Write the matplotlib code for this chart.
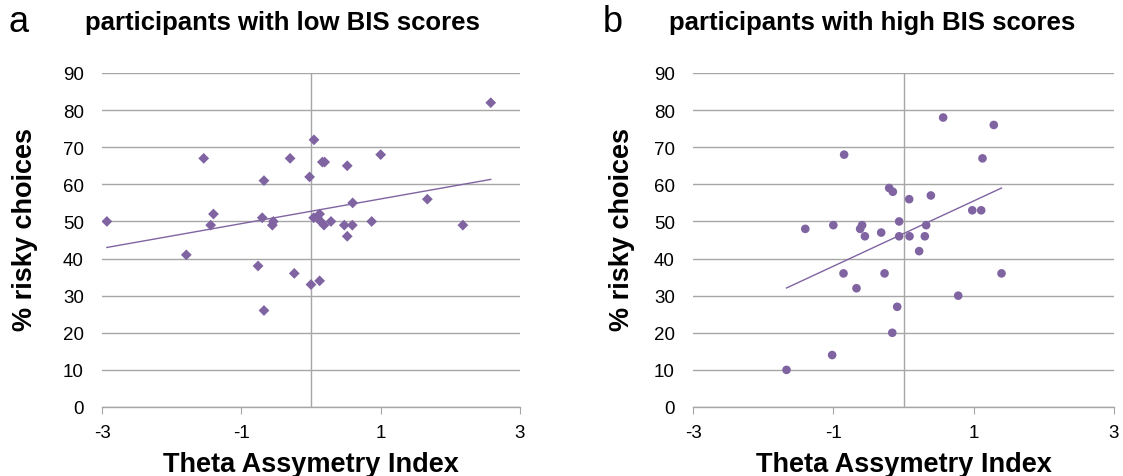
import numpy as np
import matplotlib
matplotlib.use("Agg")
import matplotlib.pyplot as plt

plt.rcParams['font.family'] = ['Liberation Sans', 'DejaVu Sans']

# Panel a: participants with low BIS scores
low_x = [-2.93, -1.54, -1.40, -1.44, -1.79, -0.675, -0.70, -0.54, -0.555, -0.76,
         -0.675, -0.30, -0.24, -0.02, 0.043, 0.0, 0.124, 0.163, 0.196, 0.038,
         0.09, 0.124, 0.139, 0.187, 0.287, 0.478, 0.52, 0.52, 0.593, 0.598,
         0.871, 1.0, 1.67, 2.18, 2.58]
low_y = [50, 67, 52, 49, 41, 61, 51, 50, 49, 38,
         26, 67, 36, 62, 72, 33, 34, 66, 66, 51,
         51, 52, 50, 49, 50, 49, 65, 46, 49, 55,
         50, 68, 56, 49, 82]

# Panel b: participants with high BIS scores
high_x = [-1.667, -1.40, -1.017, -1.00, -0.846, -0.855, -0.67, -0.618, -0.59, -0.55,
          -0.318, -0.27, -0.204, -0.152, -0.16, -0.09, -0.062, -0.062, 0.081, 0.086,
          0.223, 0.304, 0.323, 0.39, 0.565, 0.78, 0.98, 1.107, 1.126, 1.287, 1.397]
high_y = [10, 48, 14, 49, 68, 36, 32, 48, 49, 46,
          47, 36, 59, 58, 20, 27, 50, 46, 56, 46,
          42, 46, 49, 57, 78, 30, 53, 53, 67, 76, 36]

titles = ["participants with low BIS scores", "participants with high BIS scores"]
letters = ["a", "b"]
x_label = "Theta Assymetry Index"
y_label = "% risky choices"
x_ticks = [-3, -1, 1, 3]
y_ticks = list(range(0, 100, 10))

purple = "#8064A2"
grid_c = "#A6A6A6"

fig = plt.figure(figsize=(11.23, 4.77), dpi=100)
W, H = 1123, 477

panels = [
    (low_x, low_y, "D", 5.5, (102, 74, 520, 408), 282, 19, 25),
    (high_x, high_y, "o", 6.2, (693, 74, 1114, 408), 872, 613, 622),
]

for i, (xs, ys, mk, ms, box, tcx, lx, ylx) in enumerate(panels):
    l, t, r, b = box
    ax = fig.add_axes([l / W, 1 - b / H, (r - l) / W, (b - t) / H])
    ax.set_xlim(-3, 3)
    ax.set_ylim(0, 90)
    ax.set_yticks(y_ticks)
    ax.set_xticks(x_ticks)
    ax.grid(axis='y', color=grid_c, linewidth=1.0)
    ax.set_axisbelow(True)
    for s in ['top', 'right', 'left']:
        ax.spines[s].set_visible(False)
    ax.spines['bottom'].set_color(grid_c)
    ax.spines['bottom'].set_linewidth(1.0)
    ax.axvline(0, color=grid_c, linewidth=1.0, zorder=1)
    ax.tick_params(axis='y', length=0, pad=13, labelsize=13.5)
    ax.tick_params(axis='x', length=5, color=grid_c, direction='out', pad=7, labelsize=13.5)
    ax.set_yticklabels([str(v) for v in y_ticks])
    ax.set_xticklabels([str(v) for v in x_ticks])

    ax.scatter(xs, ys, marker=mk, s=ms ** 2, color=purple, edgecolor='none', zorder=3)
    coef = np.polyfit(xs, ys, 1)
    xl = np.array([min(xs), max(xs)])
    ax.plot(xl, np.polyval(coef, xl), color=purple, linewidth=1.0, zorder=2)

    fig.text(ylx / W, 1 - 230 / H, y_label, fontsize=19.5, fontweight='bold',
             rotation=90, ha='center', va='center')
    fig.text((l + r) / 2 / W, 1 - 465 / H, x_label, fontsize=19.5, fontweight='bold',
             ha='center', va='center')
    fig.text(tcx / W, 1 - 23 / H, titles[i], fontsize=18.5, fontweight='bold',
             ha='center', va='center')
    fig.text(lx / W, 1 - 22 / H, letters[i], fontsize=26, ha='center', va='center')

fig.savefig("out.png", dpi=100)
